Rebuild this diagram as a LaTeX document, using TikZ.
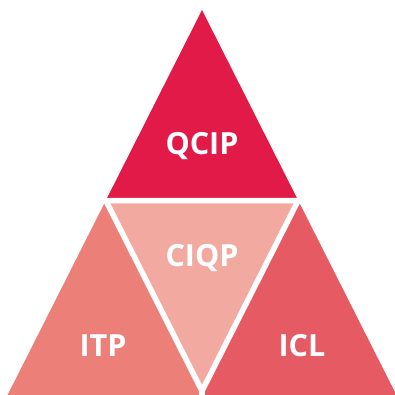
\documentclass[tikz,border=0pt]{standalone}
\usepackage{fontspec}
\setmainfont{Open Sans}
\definecolor{cTop}{RGB}{226,26,72}
\definecolor{cMid}{RGB}{242,170,160}
\definecolor{cLeft}{RGB}{236,127,120}
\definecolor{cRight}{RGB}{230,90,100}
\begin{document}
\begin{tikzpicture}[x=1pt,y=-1pt,
  lbl/.style={text=white,font=\fontsize{30.5}{36}\selectfont\bfseries,anchor=center},
  gap/.style={draw=white,line width=5.5pt,line join=miter}]
\useasboundingbox (0,0) rectangle (395,395);
\clip (0,0) rectangle (395,395);
\coordinate (A) at (202,10);
\coordinate (B) at (5.05,400);
\coordinate (C) at (398.95,400);
\coordinate (L) at (105.8,200.5);
\coordinate (R) at (298.2,200.5);
\coordinate (M) at (202,391);
\coordinate (Bm) at (202,400);
\fill[cTop] (A) -- (L) -- (R) -- cycle;
\fill[cLeft] (L) -- (B) -- (Bm) -- (M) -- cycle;
\fill[cRight] (R) -- (M) -- (Bm) -- (C) -- cycle;
\fill[cMid] (L) -- (R) -- (M) -- cycle;
\draw[gap] (L) -- (R) -- (M) -- cycle;
\draw[gap] (M) -- (Bm);
\node[lbl] (qcip) at (202,146) {QCIP};
\node[lbl] (ciqp) at (202,258) {CIQP};
\node[lbl] (itp) at (103,346) {ITP};
\node[lbl] (icl) at (302,346) {ICL};
\end{tikzpicture}
\end{document}
